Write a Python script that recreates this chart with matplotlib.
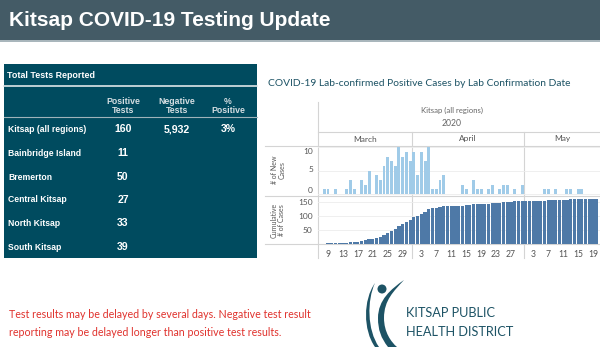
import numpy as np
import pandas as pd
import matplotlib.pyplot as plt
from matplotlib.patches import Rectangle, Circle, PathPatch
from matplotlib.path import Path
from matplotlib.transforms import blended_transform_factory

plt.rcParams['font.family'] = ['Lato', 'DejaVu Sans']
BOLD = ['Liberation Sans', 'DejaVu Sans']

# ---- data ----
regions = ['Kitsap (all regions)', 'Bainbridge Island', 'Bremerton',
           'Central Kitsap', 'North Kitsap', 'South Kitsap']
positive = [160, 11, 50, 27, 33, 39]
negative_all = 5932
pct_positive_all = '3%'

case_dates = ['03-08', '03-09', '03-11', '03-14', '03-15', '03-16', '03-18', '03-19',
              '03-20', '03-22', '03-23', '03-24', '03-25', '03-26', '03-27', '03-28',
              '03-29', '03-30', '03-31',
              '04-01', '04-02', '04-03', '04-04', '04-05', '04-06', '04-07', '04-08',
              '04-09', '04-14', '04-15', '04-17', '04-18', '04-19', '04-21', '04-22',
              '04-24', '04-25', '04-26', '04-28', '04-30',
              '05-06', '05-07', '05-09', '05-12', '05-13', '05-15', '05-16']
new_cases = [1, 1, 1, 1, 3, 1, 3, 2, 5, 4, 3, 6, 8, 7, 6, 10, 8, 9, 7,
             9, 4, 9, 7, 10, 1, 1, 3, 4, 2, 1, 3, 1, 1, 1, 2, 1, 2, 2, 1, 2,
             1, 1, 1, 1, 1, 1, 1]

months = ['March', 'April', 'May']
month_days = [31, 30, 31]
tick_days = {'March': [9, 13, 17, 21, 25, 29],
             'April': [3, 7, 11, 15, 19, 23, 27],
             'May': [3, 7, 11, 15, 19]}
daily_ticks = [0, 5, 10]
cum_ticks = [50, 100, 150]

# ---- series ----
days = pd.date_range('2020-03-08', '2020-05-20')
daily = pd.Series(new_cases, index=pd.to_datetime(['2020-' + d for d in case_dates]))
daily = daily.reindex(days, fill_value=0)
cumulative = daily.cumsum()
x = np.asarray((days - pd.Timestamp('2020-02-29')).days)  # March 1 -> 1

W, H = 600, 350
fig = plt.figure(figsize=(6, 3.5), dpi=100)
bg = fig.add_axes([0, 0, 1, 1])
bg.set_xlim(0, W)
bg.set_ylim(H, 0)
bg.axis('off')

teal = '#1d5365'
# header band
bg.add_patch(Rectangle((0, 0), W, 39.5, color='#445b66', lw=0))
bg.add_patch(Rectangle((0, 39.5), W, 2.5, color='#a9b6bc', lw=0))
bg.text(9, 21, 'Kitsap COVID-19 Testing Update', color='white', fontsize=15,
        fontweight='bold', family=BOLD, va='center', ha='left')

# ---- table panel ----
panel = '#004b5f'
bg.add_patch(Rectangle((4, 64), 253, 194, color=panel, lw=0))
bg.plot([4, 257], [85.8, 85.8], color='#dfe6e9', lw=1.2)
bg.plot([4, 257], [116.5, 116.5], color='#9fb3ba', lw=0.8)
bg.text(7, 75, 'Total Tests Reported', color='white', fontsize=6.4,
        fontweight='bold', family=BOLD, va='center')
col_x = [123, 177, 228]
col_heads = ['Positive\nTests', 'Negative\nTests', '%\nPositive']
for cx, head in zip(col_x, col_heads):
    bg.text(cx, 106, head, color='#d5dee2', fontsize=6.3, fontweight='bold',
            family=BOLD, ha='center', va='center', linespacing=1.0)
row_y = [129, 153, 177, 200, 223, 247]
for ry, name, pos in zip(row_y, regions, positive):
    bg.text(8, ry, name, color='white', fontsize=6.2, fontweight='bold',
            family=BOLD, va='center')
    bg.text(col_x[0], ry, str(pos), color='white', fontsize=7.6, fontweight='bold',
            family=BOLD, ha='center', va='center')
bg.text(col_x[1], row_y[0], f'{negative_all:,}', color='white', fontsize=7.6,
        fontweight='bold', family=BOLD, ha='center', va='center')
bg.text(col_x[2], row_y[0], pct_positive_all, color='white', fontsize=7.6,
        fontweight='bold', family=BOLD, ha='center', va='center')

# ---- chart ----
L, R = 318, 600
x0, x1 = 6.32, 81.86
bg.text(268, 83, 'COVID-19 Lab-confirmed Positive Cases by Lab Confirmation Date',
        color=teal, fontsize=7.4, va='center')

ax1 = fig.add_axes([L / W, 1 - 196 / H, (R - L) / W, 50 / H])
ax2 = fig.add_axes([L / W, 1 - 244 / H, (R - L) / W, 48 / H])
for ax in (ax1, ax2):
    ax.set_facecolor('none')
    for s in ax.spines.values():
        s.set_visible(False)
    ax.set_xlim(x0, x1)
    ax.yaxis.grid(True, color='#ececec', lw=0.6)
    ax.set_axisbelow(True)
    ax.tick_params(axis='y', length=0, labelsize=6, labelcolor='#555555', pad=4)

nz = daily.values > 0
ax1.bar(x[nz], daily.values[nz], width=0.8, color='#a0cbe8', lw=0)
ax1.set_ylim(-0.43, 10.3)
ax1.set_yticks(daily_ticks)
ax1.set_yticklabels([])
ax1.set_xticks([])
# Tableau nudges the edge labels inward
label_tr = blended_transform_factory(bg.transData, ax1.transData)
for v, nudge in zip(daily_ticks, [0.7, 0.3, -0.9]):
    ax1.text(313, v + nudge, str(v), transform=label_tr, ha='right', va='center',
             fontsize=6, color='#555555', clip_on=False)

ax2.bar(x, cumulative.values, width=0.85, color='#4e79a7', lw=0)
ax2.set_ylim(0, 170)
ax2.set_yticks(cum_ticks)
ticks, labels = [], []
offset = 0
for m, nd in zip(months, month_days):
    ticks += [d + offset for d in tick_days[m]]
    labels += [str(d) for d in tick_days[m]]
    offset += nd
ax2.set_xticks(ticks)
ax2.set_xticklabels(labels)
ax2.tick_params(axis='x', length=0, labelsize=6.2, labelcolor='#555555', pad=4)


def to_px(d):
    return L + (d - x0) / (x1 - x0) * (R - L)


line_c = '#d4d4d4'
bounds = np.cumsum(month_days)[:-1] + 0.5
bg.plot([L, L], [102, 258], color=line_c, lw=0.8)
for b in bounds:
    bg.plot([to_px(b)] * 2, [132, 258], color=line_c, lw=0.8, zorder=0)
bg.plot([L, W], [132, 132], color=line_c, lw=0.8)
for yy in (146, 196, 244):
    bg.plot([265, W], [yy, yy], color=line_c, lw=0.8)

tr = blended_transform_factory(ax1.transData, bg.transData)
edges = np.concatenate([[x0], bounds, [x1]])
for m, a, b in zip(months, edges[:-1], edges[1:]):
    ax1.text((a + b) / 2, 139, m, transform=tr, ha='center', va='center',
             fontsize=6, color='#555555', clip_on=False)
ax1.text((x0 + x1) / 2 - 2, 110, 'Kitsap (all regions)', transform=tr, ha='center',
         va='center', fontsize=5.6, color='#666666', clip_on=False)
ax1.text((x0 + x1) / 2 - 2, 124, '2020', transform=tr, ha='center', va='center',
         fontsize=6.2, color='#666666', clip_on=False)

bg.text(278, 170, '# of New\nCases', rotation=90, ha='center', va='center',
        fontsize=5, color='#555555', linespacing=1.1)
bg.text(278, 220, 'Cumulative\n# of Cases', rotation=90, ha='center', va='center',
        fontsize=5, color='#555555', linespacing=1.1)

# ---- footer ----
bg.text(9, 314, 'Test results may be delayed by several days. Negative test result',
        color='#e0322d', fontsize=7.7, va='center')
bg.text(9, 333, 'reporting may be delayed longer than positive test results.',
        color='#e0322d', fontsize=7.7, va='center')

# logo
bg.add_patch(Circle((382, 289), 4.5, color=teal, lw=0))
left_arc = Path([(375, 283), (367, 300), (367, 330), (379, 347),
                 (375, 347), (363, 330), (363, 300), (375, 283)],
                [Path.MOVETO, Path.CURVE4, Path.CURVE4, Path.CURVE4,
                 Path.LINETO, Path.CURVE4, Path.CURVE4, Path.CURVE4])
bg.add_patch(PathPatch(left_arc, color=teal, lw=0))
body = Path([(404, 280),
             (394, 291), (384, 300), (384, 318),
             (384, 332), (391, 342), (397, 347),
             (388, 347),
             (381, 338), (378, 330), (378, 318),
             (378, 300), (391, 289), (404, 280),
             (404, 280)],
            [Path.MOVETO,
             Path.CURVE4, Path.CURVE4, Path.CURVE4,
             Path.CURVE4, Path.CURVE4, Path.CURVE4,
             Path.LINETO,
             Path.CURVE4, Path.CURVE4, Path.CURVE4,
             Path.CURVE4, Path.CURVE4, Path.CURVE4,
             Path.CLOSEPOLY])
bg.add_patch(PathPatch(body, color=teal, lw=0))
bg.text(406, 313, 'KITSAP PUBLIC', color=teal, fontsize=9.2, va='center')
bg.text(406, 332, 'HEALTH DISTRICT', color=teal, fontsize=9.2, va='center')

fig.savefig('out.png', dpi=100)
